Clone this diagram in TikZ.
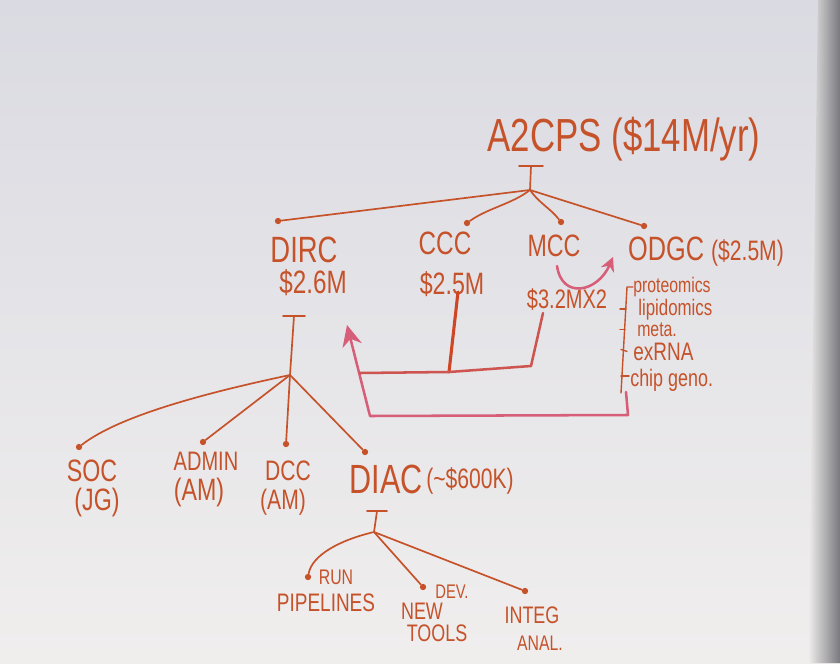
\documentclass[tikz,border=0pt]{standalone}
\usepackage{fontspec}
\newfontfamily\hand[FakeStretch=0.75]{Liberation Sans}
\usetikzlibrary{arrows.meta, positioning}

\definecolor{ink}{RGB}{198,82,42}
\definecolor{pinkink}{RGB}{214,94,120}
\definecolor{mixink}{RGB}{206,84,80}
\definecolor{boardtop}{RGB}{218,218,226}
\definecolor{boardbot}{RGB}{240,238,237}
\definecolor{boardedge}{RGB}{120,120,126}

\begin{document}
\begin{tikzpicture}[x=0.025cm, y=-0.025cm, >=Stealth,
    lbl/.style={text=ink, inner sep=0pt, font=\hand\fontsize{#1}{#1}\selectfont},
    dot/.style={circle, fill=ink, inner sep=0pt, minimum size=4.5pt},
    wire/.style={draw=ink, line width=1.2pt, line cap=round},
    pwire/.style={draw=pinkink, line width=1.8pt, line cap=round, line join=round}]

            % Tafel
            \useasboundingbox (0,0) rectangle (840,663);
            \shade[top color=boardtop, bottom color=boardbot] (0,0) rectangle (840,663);
            \shade[left color=boardbot, right color=boardedge] (818,0) -- (840,0) -- (840,663) -- (808,663) -- cycle;

            % Titel
            \node[lbl=33, anchor=base] (a2cps) at (624,152) {A2CPS (\$14M/yr)};
            \coordinate (tbar) at (531,166);
            \coordinate (hub) at (530,190);
            \draw[wire] (tbar) ++(-12,0) -- ++(24,0);
            \draw[wire] (tbar) -- (hub);

            % Zentren
            \node[dot] (ddirc) at (278,221) {};
            \node[dot] (dccc) at (467,223) {};
            \node[dot] (dmcc) at (561,222) {};
            \node[dot] (dodgc) at (644,226) {};
            \draw[wire] (hub) -- (ddirc);
            \draw[wire] (hub) .. controls (512,204) and (488,208) .. (dccc);
            \draw[wire] (hub) .. controls (540,204) and (550,208) .. (dmcc);
            \draw[wire] (hub) -- (dodgc);

            \node[lbl=26, anchor=base] (dirc) at (304,262) {DIRC};
            \node[lbl=23, anchor=base] (dircamt) at (313,293) {\$2.6M};
            \node[lbl=23, anchor=base] (ccc) at (445,254) {CCC};
            \node[lbl=22, anchor=base] (cccamt) at (452,294) {\$2.5M};
            \node[lbl=22, anchor=base] (mcc) at (554,256) {MCC};
            \node[lbl=19, anchor=base] (mccamt) at (567,308) {\$3.2MX2};
            \node[lbl=24, anchor=base] (odgc) at (706,260) {ODGC {\fontsize{20}{20}\selectfont(\$2.5M)}};

            % MCC -> ODGC
            \coordinate (mccout) at (557,266);
            \coordinate (odgcin) at (613,257);
            \draw[pwire, -{Stealth[length=10pt, width=10pt]}] (mccout) .. controls (562,300) and (598,292) .. (odgcin);

            % ODGC Liste
            \node[lbl=15, anchor=base west] (proteo) at (633,292) {proteomics};
            \node[lbl=16, anchor=base west] (lipid) at (638,315) {lipidomics};
            \node[lbl=15, anchor=base west] (meta) at (637,336) {meta.};
            \node[lbl=18, anchor=base west] (exrna) at (633,360) {exRNA};
            \node[lbl=17, anchor=base west] (chip) at (630,386) {chip geno.};
            \coordinate (brtop) at (627,287);
            \coordinate (brbot) at (621,393);
            \draw[wire, line width=1pt] (proteo.west |- brtop) -- (brtop) -- (brbot);
            \draw[wire, line width=1pt] (lipid.west) ++(-18,0) -- ++(6,0);
            \draw[wire, line width=1pt] (meta.west) ++(-17,0) -- ++(5,0);
            \draw[wire, line width=1pt] (exrna.west) ++(-12,-2) -- ++(6,2);
            \draw[wire, line width=1pt] (chip.west) ++(-9,-4) -- ++(8,0);

            % Geld zurueck an DIRC
            \coordinate (ret1) at (626,392);
            \coordinate (ret2) at (628,415);
            \coordinate (ret3) at (370,416);
            \coordinate (dirctip) at (347,325);
            \draw[pwire, -{Stealth[length=15pt, width=14pt]}] (ret1) -- (ret2) -- (ret3) -- (dirctip);

            \coordinate (cccdown) at (458,292);
            \coordinate (cccjoin) at (449,372);
            \coordinate (mccdown) at (543,313);
            \coordinate (mccjoin) at (531,366);
            \coordinate (arrowjoin) at (360,373);
            \draw[wire, line width=2.2pt, draw=ink!85!red] (cccdown) -- (cccjoin);
            \draw[pwire, draw=mixink] (mccdown) -- (mccjoin) -- (cccjoin) -- (arrowjoin);

            % DIRC Teile
            \coordinate (dtbar) at (294,316);
            \coordinate (hub2) at (290,375);
            \draw[wire] (dtbar) ++(-11,0) -- ++(22,0);
            \draw[wire] (dtbar) -- (hub2);

            \node[dot] (dsoc) at (79,447) {};
            \node[dot] (dadmin) at (203,442) {};
            \node[dot] (ddcc) at (286,444) {};
            \node[dot] (ddiac) at (365,452) {};
            \draw[wire] (hub2) .. controls (210,392) and (120,415) .. (dsoc);
            \draw[wire] (hub2) -- (dadmin);
            \draw[wire] (hub2) -- (ddcc);
            \draw[wire] (hub2) -- (ddiac);

            \node[lbl=22, anchor=base] (soc) at (92,481) {SOC};
            \node[lbl=22, anchor=base] (socwho) at (97,510) {(JG)};
            \node[lbl=19, anchor=base] (admin) at (206,470) {ADMIN};
            \node[lbl=22, anchor=base] (adminwho) at (199,500) {(AM)};
            \node[lbl=20, anchor=base] (dcc) at (288,480) {DCC};
            \node[lbl=20, anchor=base] (dccwho) at (283,509) {(AM)};
            \node[lbl=29, anchor=base] (diac) at (386,493) {DIAC};
            \node[lbl=20, anchor=base west] (diacamt) at (426,488) {(\textasciitilde\$600K)};

            % DIAC Aufgaben
            \coordinate (atbar) at (377,511);
            \coordinate (hub3) at (374,532);
            \draw[wire] (atbar) ++(-10,0) -- ++(20,0);
            \draw[wire] (atbar) -- (hub3);

            \node[dot] (drun) at (308,577) {};
            \node[dot] (ddev) at (423,587) {};
            \node[dot] (dinteg) at (525,591) {};
            \draw[wire] (hub3) .. controls (340,540) and (312,555) .. (drun);
            \draw[wire] (hub3) -- (ddev);
            \draw[wire] (hub3) -- (dinteg);

            \node[lbl=15, anchor=base] (run) at (336,584) {RUN};
            \node[lbl=18, anchor=base] (pipe) at (326,611) {PIPELINES};
            \node[lbl=14, anchor=base] (dev) at (452,598) {DEV.};
            \node[lbl=17, anchor=base] (new) at (422,619) {NEW};
            \node[lbl=17, anchor=base] (tools) at (437,641) {TOOLS};
            \node[lbl=17, anchor=base] (integ) at (532,623) {INTEG};
            \node[lbl=15, anchor=base] (anal) at (540,650) {ANAL.};
        \end{tikzpicture}
\end{document}
